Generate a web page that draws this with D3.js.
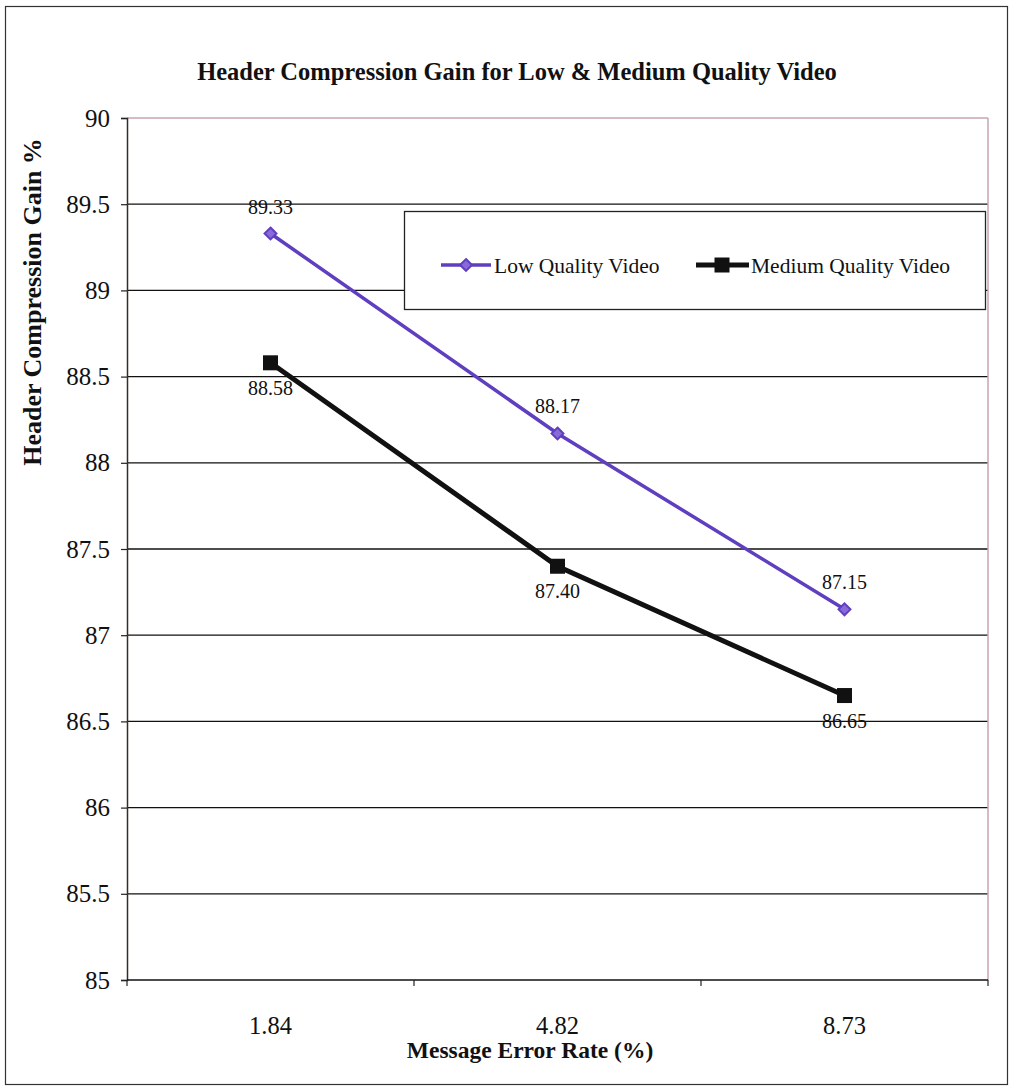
<!DOCTYPE html>
<html>
<head>
<meta charset="utf-8">
<script src="https://cdn.jsdelivr.net/npm/d3@7"></script>
<style>
  html, body { margin: 0; padding: 0; background: #fff; }
  svg text { font-family: "Liberation Serif", "Times New Roman", serif; fill: #111; }
</style>
</head>
<body>
<svg id="chart" width="1013" height="1090"></svg>
<script>
// Message error rates (x categories) and header compression gain per video quality
const errorRates = ["1.84", "4.82", "8.73"];
const lowQuality = [89.33, 88.17, 87.15];
const mediumQuality = [88.58, 87.40, 86.65];
const yTicks = [85, 85.5, 86, 86.5, 87, 87.5, 88, 88.5, 89, 89.5, 90];
const seriesNames = ["Low Quality Video", "Medium Quality Video"];

const svg = d3.select("#chart");
const margin = { left: 127, right: 1013 - 988, top: 118, bottom: 1090 - 980 };
const width = 1013 - margin.left - margin.right;
const height = 1090 - margin.top - margin.bottom;

// outer frame
svg.append("rect")
  .attr("x", 5.5).attr("y", 6.5).attr("width", 1002).attr("height", 1078)
  .attr("fill", "none").attr("stroke", "#333").attr("stroke-width", 1.2);

const g = svg.append("g").attr("transform", `translate(${margin.left},${margin.top})`);

const x = d3.scaleBand().domain(errorRates).range([0, width]);
const y = d3.scaleLinear().domain([85, 90]).range([height, 0]);

// gridlines
g.selectAll("line.grid").data(yTicks.filter(t => t > 85 && t < 90)).join("line")
  .attr("class", "grid")
  .attr("x1", 0).attr("x2", width)
  .attr("y1", d => y(d)).attr("y2", d => y(d))
  .attr("stroke", "#111").attr("stroke-width", 1.3);

// plot border on top and right
g.append("line").attr("x1", 0).attr("x2", width).attr("y1", y(90)).attr("y2", y(90))
  .attr("stroke", "#c9a3b0").attr("stroke-width", 1.5);
g.append("line").attr("x1", width).attr("x2", width).attr("y1", 0).attr("y2", height)
  .attr("stroke", "#c9a3b0").attr("stroke-width", 1.5);

// y axis
const yAxis = g.append("g")
  .call(d3.axisLeft(y).tickValues(yTicks).tickSize(6).tickPadding(11)
    .tickFormat(d => d3.format("")(d)));
yAxis.select(".domain").attr("stroke", "#3a2a20").attr("stroke-width", 1.5);
yAxis.selectAll(".tick line").attr("stroke", "#222").attr("stroke-width", 1.2);
yAxis.selectAll(".tick text").style("font-size", "25px").attr("fill", "#222")
  .attr("font-family", "Liberation Serif, serif");

// x axis: ticks between categories
const xAxisG = g.append("g").attr("transform", `translate(0,${height})`);
xAxisG.append("line").attr("x1", 0).attr("x2", width).attr("y1", 0).attr("y2", 0)
  .attr("stroke", "#111").attr("stroke-width", 1.5);
const bounds = d3.range(errorRates.length + 1).map(i => i * x.step());
xAxisG.selectAll("line.tk").data(bounds).join("line")
  .attr("class", "tk")
  .attr("x1", d => d).attr("x2", d => d).attr("y1", 0).attr("y2", 6)
  .attr("stroke", "#222").attr("stroke-width", 1.2);
xAxisG.selectAll("text.lbl").data(errorRates).join("text")
  .attr("class", "lbl")
  .attr("x", d => x(d) + x.bandwidth() / 2)
  .attr("y", 54)
  .attr("text-anchor", "middle")
  .style("font-size", "24.5px")
  .attr("fill", "#222")
  .text(d => d);

// titles
svg.append("text").attr("x", 517).attr("y", 80).attr("text-anchor", "middle")
  .style("font-size", "24.5px").style("font-weight", "bold")
  .text("Header Compression Gain for Low & Medium Quality Video");
svg.append("text").attr("x", 530).attr("y", 1058).attr("text-anchor", "middle")
  .style("font-size", "23.5px").style("font-weight", "bold")
  .text("Message Error Rate (%)");
svg.append("text")
  .attr("transform", "translate(41,302) rotate(-90)")
  .attr("text-anchor", "middle")
  .style("font-size", "26px").style("font-weight", "bold")
  .text("Header Compression Gain %");

const cx = d => x(d) + x.bandwidth() / 2;
const lowColor = "#5f3fc0";
const medColor = "#111111";

const line = d3.line().x(d => cx(d.k)).y(d => y(d.v));
const lowData = errorRates.map((k, i) => ({ k, v: lowQuality[i] }));
const medData = errorRates.map((k, i) => ({ k, v: mediumQuality[i] }));

g.append("path").datum(medData).attr("d", line)
  .attr("fill", "none").attr("stroke", medColor).attr("stroke-width", 5);
g.append("path").datum(lowData).attr("d", line)
  .attr("fill", "none").attr("stroke", lowColor).attr("stroke-width", 3.5);

const diamond = d3.symbol().type(d3.symbolDiamond2).size(90);
g.selectAll("path.lowpt").data(lowData).join("path")
  .attr("class", "lowpt")
  .attr("transform", d => `translate(${cx(d.k)},${y(d.v)})`)
  .attr("d", diamond)
  .attr("fill", "#8a6ad8").attr("stroke", lowColor).attr("stroke-width", 2);

const sq = 15;
g.selectAll("rect.medpt").data(medData).join("rect")
  .attr("class", "medpt")
  .attr("x", d => cx(d.k) - sq / 2).attr("y", d => y(d.v) - sq / 2)
  .attr("width", sq).attr("height", sq)
  .attr("fill", medColor);

// value labels
g.selectAll("text.lowlbl").data(lowData).join("text")
  .attr("class", "lowlbl")
  .attr("x", d => cx(d.k)).attr("y", d => y(d.v) - 20)
  .attr("text-anchor", "middle").style("font-size", "20px").attr("fill", "#333")
  .text(d => d3.format(".2f")(d.v));
g.selectAll("text.medlbl").data(medData).join("text")
  .attr("class", "medlbl")
  .attr("x", d => cx(d.k)).attr("y", d => y(d.v) + 32)
  .attr("text-anchor", "middle").style("font-size", "20px").attr("fill", "#333")
  .text(d => d3.format(".2f")(d.v));

// legend
const lg = svg.append("g");
lg.append("rect").attr("x", 404.5).attr("y", 211.5).attr("width", 581).attr("height", 98)
  .attr("fill", "#fff").attr("stroke", "#222").attr("stroke-width", 1.3);
const ly = 265;
lg.append("line").attr("x1", 441).attr("x2", 491).attr("y1", ly).attr("y2", ly)
  .attr("stroke", lowColor).attr("stroke-width", 3.5);
lg.append("path").attr("transform", `translate(466,${ly})`).attr("d", diamond)
  .attr("fill", "#8a6ad8").attr("stroke", lowColor).attr("stroke-width", 2);
lg.append("text").attr("x", 494).attr("y", ly + 8).style("font-size", "21.5px").text(seriesNames[0]);
lg.append("line").attr("x1", 696).attr("x2", 749).attr("y1", ly).attr("y2", ly)
  .attr("stroke", medColor).attr("stroke-width", 5);
lg.append("rect").attr("x", 722 - sq / 2).attr("y", ly - sq / 2).attr("width", sq).attr("height", sq)
  .attr("fill", medColor);
lg.append("text").attr("x", 751).attr("y", ly + 8).style("font-size", "21.5px").text(seriesNames[1]);
</script>
</body>
</html>
